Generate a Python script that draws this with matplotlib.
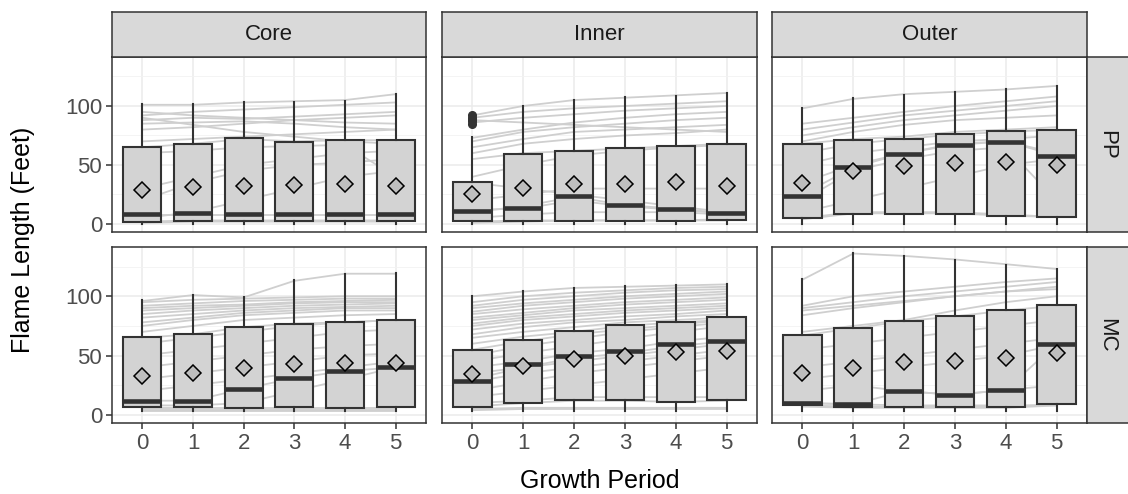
import matplotlib
matplotlib.use("Agg")
import matplotlib.pyplot as plt

plt.rcParams['font.family'] = ['Liberation Sans', 'DejaVu Sans']

# Facets and growth periods
zones = ['Core', 'Inner', 'Outer']
treatments = ['PP', 'MC']
periods = [0, 1, 2, 3, 4, 5]

# Box stats: (whislo, q1, med, q3, whishi, mean) per period
box_stats = {
    ('PP', 'Core'): [(0, 1.5, 8.5, 65.6, 101.7, 29.0), (0, 2.8, 9.5, 68.1, 101.7, 31.3),
                     (0, 2.8, 8.5, 72.7, 103.7, 32.1), (0, 2.8, 8.5, 69.6, 103.7, 33.2),
                     (0, 2.8, 8.5, 71.3, 104.5, 33.8), (0, 2.8, 8.5, 71.3, 109.9, 32.4)],
    ('PP', 'Inner'): [(0, 2.2, 11.0, 35.2, 73.5, 25.6), (0, 2.2, 13.2, 59.4, 100.0, 30.1),
                      (0, 2.8, 23.3, 62.2, 105.0, 33.8), (0, 2.8, 15.7, 64.5, 107.3, 34.2),
                      (0, 2.8, 12.7, 66.5, 108.7, 35.5), (0, 3.6, 9.3, 67.9, 110.7, 32.6)],
    ('PP', 'Outer'): [(0, 4.8, 23.6, 67.9, 98.6, 34.6), (0, 8.7, 48.2, 71.3, 106.4, 44.5),
                      (0, 8.7, 59.7, 72.1, 109.6, 49.0), (0, 8.7, 67.3, 76.3, 111.8, 51.5),
                      (0, 7.0, 69.3, 79.1, 114.0, 52.4), (0, 5.9, 57.7, 80.0, 117.2, 50.1)],
    ('MC', 'Core'): [(3, 6.5, 12.1, 65.3, 96.6, 33.1), (3, 6.5, 12.1, 67.8, 100.8, 35.6),
                     (3, 5.6, 21.8, 73.7, 99.4, 39.2), (3, 6.5, 31.1, 76.8, 113.4, 42.8),
                     (3, 5.6, 37.3, 77.9, 118.8, 44.0), (3, 6.5, 40.1, 79.8, 119.3, 44.0)],
    ('MC', 'Inner'): [(3, 7.0, 28.6, 54.6, 100.3, 34.2), (3, 10.4, 42.6, 62.8, 104.5, 41.5),
                      (3, 12.6, 49.9, 70.6, 107.0, 47.3), (3, 12.6, 53.5, 75.6, 108.4, 49.9),
                      (3, 11.2, 59.6, 78.1, 109.2, 52.7), (3, 12.6, 62.5, 82.6, 110.1, 54.1)],
    ('MC', 'Outer'): [(3, 8.1, 10.4, 67.2, 114.3, 35.0), (3, 6.7, 9.2, 73.4, 136.1, 39.5),
                      (3, 6.7, 19.9, 79.0, 134.1, 44.8), (3, 6.7, 16.8, 83.2, 130.8, 45.6),
                      (3, 6.7, 21.0, 88.6, 126.6, 47.6), (3, 9.0, 59.4, 92.4, 122.7, 52.1)],
}

# outliers (PP / Inner, period 0)
outliers = {('PP', 'Inner', 0): [85, 87, 89, 90, 92]}

# individual stand trajectories (grey lines behind the boxes)
traj = {
    ('PP', 'Core'): [
        [101, 101, 103, 104, 105, 110], [92, 95, 97, 99, 101, 103], [95, 92, 90, 88, 86, 85],
        [88, 90, 89, 91, 93, 95], [85, 86, 87, 85, 82, 80], [80, 82, 85, 88, 90, 92],
        [90, 84, 78, 74, 70, 68], [70, 72, 74, 76, 78, 80], [65, 68, 72, 70, 71, 71],
        [60, 62, 65, 66, 67, 40], [30, 40, 50, 55, 60, 62], [20, 35, 45, 50, 52, 55],
        [5, 10, 20, 30, 40, 45], [2, 3, 3, 3, 3, 3], [1, 2, 2, 2, 2, 2], [8, 8, 8, 8, 8, 8]],
    ('PP', 'Inner'): [
        [92, 100, 105, 107, 109, 111], [90, 95, 98, 100, 102, 104], [88, 86, 84, 82, 80, 78],
        [86, 90, 93, 96, 98, 100], [73, 80, 86, 90, 93, 95], [70, 78, 82, 85, 88, 90],
        [65, 72, 78, 80, 82, 84], [60, 68, 72, 75, 77, 80], [55, 60, 62, 64, 66, 68],
        [40, 50, 58, 62, 65, 67], [35, 30, 25, 20, 15, 10], [20, 25, 30, 30, 30, 30],
        [10, 15, 23, 16, 13, 9], [5, 8, 10, 10, 10, 8], [2, 3, 3, 3, 3, 4],
        [1, 2, 3, 3, 3, 3], [12, 13, 20, 15, 12, 9]],
    ('PP', 'Outer'): [
        [98, 106, 110, 112, 114, 117], [85, 90, 95, 100, 104, 108], [80, 86, 92, 96, 100, 104],
        [75, 82, 88, 92, 96, 100], [70, 78, 84, 88, 90, 92], [68, 72, 74, 78, 80, 82],
        [60, 68, 72, 76, 78, 80], [50, 60, 65, 70, 72, 75], [35, 50, 60, 67, 70, 58],
        [25, 48, 60, 68, 70, 60], [20, 45, 55, 62, 65, 20], [10, 20, 30, 40, 50, 55],
        [5, 10, 10, 10, 8, 6], [4, 9, 9, 9, 7, 6]],
    ('MC', 'Core'): [
        [96, 101, 99, 113, 119, 119], [95, 97, 98, 99, 100, 100], [92, 94, 96, 97, 98, 98],
        [90, 92, 93, 95, 96, 97], [88, 90, 92, 94, 95, 95], [85, 88, 90, 92, 93, 94],
        [82, 85, 88, 90, 91, 92], [78, 82, 86, 88, 90, 90], [75, 80, 84, 86, 88, 88],
        [70, 75, 80, 82, 84, 85], [65, 68, 74, 77, 78, 80], [60, 65, 70, 75, 78, 80],
        [50, 55, 60, 65, 70, 72], [40, 45, 50, 55, 58, 60], [30, 35, 40, 45, 50, 52],
        [20, 25, 30, 35, 40, 45], [12, 12, 22, 31, 37, 40], [8, 8, 10, 20, 30, 40],
        [6, 6, 6, 6, 6, 6], [4, 4, 4, 4, 4, 4], [3, 3, 3, 3, 3, 3]],
    ('MC', 'Inner'): [
        [100, 104, 107, 108, 109, 110], [95, 100, 103, 105, 107, 108], [92, 97, 100, 103, 105, 106],
        [90, 94, 97, 100, 102, 104], [87, 92, 95, 98, 100, 102], [85, 89, 92, 95, 97, 99],
        [82, 86, 90, 93, 95, 97], [80, 84, 88, 90, 92, 94], [77, 82, 85, 88, 90, 92],
        [75, 80, 83, 86, 88, 90], [72, 77, 80, 83, 85, 88], [68, 74, 78, 80, 83, 85],
        [65, 70, 74, 78, 80, 82], [60, 66, 70, 75, 78, 80], [55, 62, 68, 72, 76, 80],
        [50, 58, 64, 70, 74, 78], [45, 52, 58, 64, 70, 75], [40, 45, 52, 56, 62, 66],
        [35, 40, 48, 52, 58, 62], [30, 40, 45, 50, 55, 60], [28, 35, 40, 45, 50, 55],
        [20, 28, 35, 40, 45, 50], [15, 20, 25, 30, 35, 40], [10, 12, 15, 15, 15, 15],
        [7, 10, 12, 12, 11, 12], [5, 6, 6, 6, 6, 6], [4, 5, 5, 5, 5, 5]],
    ('MC', 'Outer'): [
        [114, 136, 134, 131, 127, 123], [92, 100, 104, 108, 112, 115], [90, 95, 100, 104, 108, 112],
        [88, 92, 96, 100, 104, 108], [84, 90, 95, 100, 104, 106], [70, 75, 80, 88, 95, 100],
        [67, 73, 79, 83, 88, 92], [55, 60, 65, 70, 75, 80], [40, 45, 50, 55, 60, 65],
        [30, 35, 40, 45, 50, 59], [20, 25, 20, 17, 21, 60], [10, 9, 20, 17, 21, 25],
        [10, 9, 8, 8, 8, 8], [8, 7, 7, 7, 7, 9], [7, 6, 6, 6, 6, 8]],
}

W, H = 1128, 494
fig = plt.figure(figsize=(W / 100, H / 100), dpi=100)

col_px = [(112, 426), (442, 757), (772, 1087)]
row_px = [(57, 232), (247, 423)]


def fbox(x0, x1, y0, y1):
    return [x0 / W, 1 - y1 / H, (x1 - x0) / W, (y1 - y0) / H]


dark = '#333333'
for r, trt in enumerate(treatments):
    for c, zone in enumerate(zones):
        x0, x1 = col_px[c]
        y0, y1 = row_px[r]
        ax = fig.add_axes(fbox(x0, x1, y0, y1))
        ax.set_facecolor('white')

        # grey trajectories
        for t in traj[(trt, zone)]:
            ax.plot(periods, t, color='#CFCFCF', lw=1.3, zorder=1.5)

        stats = []
        for i, p in enumerate(periods):
            lo, q1, med, q3, hi, mn = box_stats[(trt, zone)][i]
            stats.append(dict(whislo=lo, q1=q1, med=med, q3=q3, whishi=hi, mean=mn,
                              fliers=outliers.get((trt, zone, p), [])))
        ax.bxp(stats, positions=periods, widths=0.75, patch_artist=True,
               showcaps=False, showmeans=True, manage_ticks=False,
               boxprops=dict(facecolor='#D3D3D3', edgecolor=dark, lw=1.5),
               whiskerprops=dict(color=dark, lw=1.5),
               medianprops=dict(color=dark, lw=3.3, solid_capstyle='butt'),
               meanprops=dict(marker='D', markerfacecolor='#BEBEBE',
                              markeredgecolor='black', markersize=8.6, markeredgewidth=1.1),
               flierprops=dict(marker='o', markerfacecolor=dark, markeredgecolor=dark,
                               markersize=5.5),
               zorder=3)

        ax.set_xlim(-0.6, 5.6)
        ax.set_ylim(-6.8, 141.5)
        ax.set_yticks([0, 50, 100])
        ax.set_yticks([25, 75, 125], minor=True)
        ax.set_xticks(periods)
        ax.grid(True, which='major', color='#EBEBEB', lw=1.1, zorder=0)
        ax.grid(True, which='minor', axis='y', color='#F2F2F2', lw=0.6, zorder=0)
        ax.set_axisbelow(True)
        ax.tick_params(which='minor', length=0)
        ax.tick_params(which='major', length=4.5, color=dark, width=1.1,
                       labelsize=16, labelcolor='#4D4D4D', pad=2.5)
        if c > 0:
            ax.tick_params(axis='y', length=0, labelleft=False)
        if r == 0:
            ax.tick_params(axis='x', length=0, labelbottom=False)
        for s in ax.spines.values():
            s.set_color(dark)
            s.set_linewidth(1.1)

        # top strip
        if r == 0:
            sax = fig.add_axes(fbox(x0, x1, 12, 57))
            sax.set_facecolor('#D9D9D9')
            sax.set_xticks([])
            sax.set_yticks([])
            for s in sax.spines.values():
                s.set_color(dark)
                s.set_linewidth(1.1)
            sax.text(0.5, 0.5, zone, ha='center', va='center', fontsize=16,
                     color='#1A1A1A', transform=sax.transAxes)
        # right strip
        if c == 2:
            rax = fig.add_axes(fbox(1087, 1130, y0, y1))
            rax.set_facecolor('#D9D9D9')
            rax.set_xticks([])
            rax.set_yticks([])
            for s in rax.spines.values():
                s.set_color(dark)
                s.set_linewidth(1.1)
            rax.text(0.45, 0.5, trt, ha='center', va='center', fontsize=16,
                     color='#1A1A1A', rotation=-90, transform=rax.transAxes)

fig.text(23 / W, 1 - 240 / H, 'Flame Length (Feet)', rotation=90, ha='center',
         va='center', fontsize=18)
fig.text(600 / W, 1 - 481 / H, 'Growth Period', ha='center', va='center', fontsize=18)

fig.savefig('out.png', dpi=100)
